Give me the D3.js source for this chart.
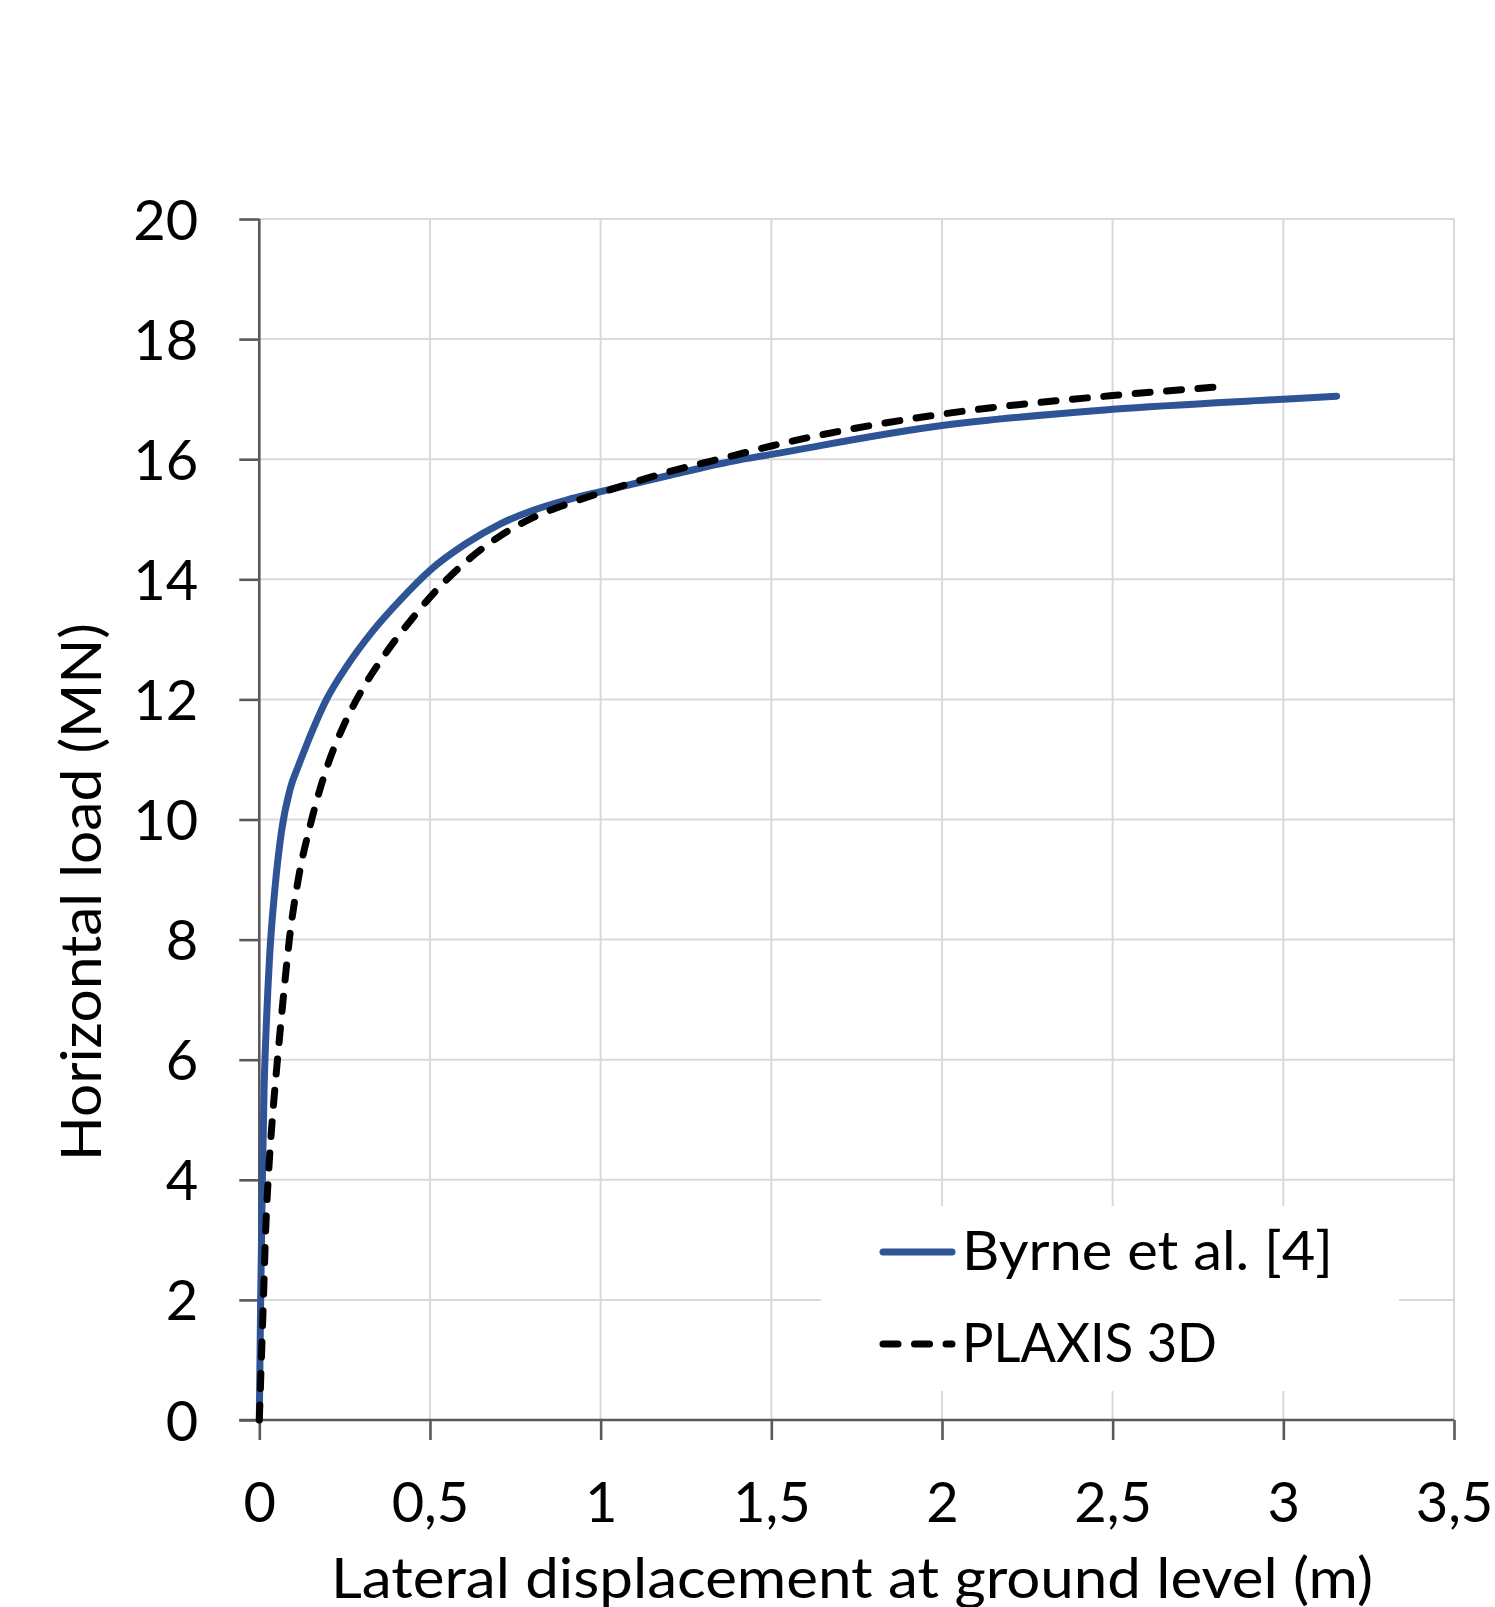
<!DOCTYPE html>
<html>
<head>
<meta charset="utf-8">
<script src="https://cdn.jsdelivr.net/npm/d3@7"></script>
<style>
  html, body { margin: 0; padding: 0; background: #fff; }
  svg { display: block; }
  text { font-family: Lato, "Open Sans", sans-serif; fill: #000; }
</style>
</head>
<body>
<svg id="chart" width="1495" height="1607"></svg>
<script>
// ---- Data ----
const byrneX = [0, 0.004, 0.009, 0.014, 0.02, 0.03, 0.045, 0.065, 0.09, 0.115, 0.139, 0.197, 0.256, 0.334, 0.412, 0.5, 0.607, 0.705, 0.803, 0.9, 1.0, 1.193, 1.389, 1.5, 2.0, 2.5, 3.0, 3.156];
const byrneY = [0, 2, 4, 5.5, 6.5, 7.7, 8.8, 9.8, 10.5, 10.9, 11.25, 12.0, 12.55, 13.15, 13.65, 14.15, 14.6, 14.92, 15.15, 15.32, 15.46, 15.72, 15.97, 16.08, 16.56, 16.83, 17.0, 17.05];

const plaxisX = [0, 0.006, 0.012, 0.019, 0.027, 0.038, 0.05, 0.063, 0.075, 0.088, 0.114, 0.149, 0.2, 0.25, 0.3, 0.35, 0.4, 0.45, 0.5, 0.607, 0.705, 0.803, 0.9, 1.0, 1.193, 1.389, 1.5, 1.584, 2.0, 2.5, 2.8];
const plaxisY = [0, 1, 2, 3.2, 4.1, 5.0, 5.8, 6.6, 7.3, 8.0, 9.0, 9.9, 10.9, 11.6, 12.15, 12.6, 13.0, 13.36, 13.7, 14.3, 14.72, 15.03, 15.25, 15.44, 15.78, 16.06, 16.22, 16.33, 16.75, 17.06, 17.2];

const xTicks = [0, 0.5, 1, 1.5, 2, 2.5, 3, 3.5];
const xTickLabels = ["0", "0,5", "1", "1,5", "2", "2,5", "3", "3,5"];
const yTicks = [0, 2, 4, 6, 8, 10, 12, 14, 16, 18, 20];
const yTickLabels = ["0", "2", "4", "6", "8", "10", "12", "14", "16", "18", "20"];

const seriesNames = ["Byrne et al. [4]", "PLAXIS 3D"];
const xTitle = "Lateral displacement at ground level (m)";
const yTitle = "Horizontal load (MN)";

// ---- Layout ----
const plot = { left: 259.3, right: 1454, top: 219, bottom: 1420 };
const svg = d3.select("#chart");

const x = d3.scaleLinear().domain([0, 3.5]).range([plot.left, plot.right]);
const y = d3.scaleLinear().domain([0, 20]).range([plot.bottom, plot.top]);

const gridColor = "#d9d9d9";
const axisColor = "#595959";
const blue = "#2f5496";

// Gridlines
svg.append("g").selectAll("line.h").data(yTicks.filter(d => d > 0)).join("line")
  .attr("x1", plot.left).attr("x2", plot.right)
  .attr("y1", d => y(d)).attr("y2", d => y(d))
  .attr("stroke", gridColor).attr("stroke-width", 2);
svg.append("g").selectAll("line.v").data(xTicks.filter(d => d > 0)).join("line")
  .attr("x1", d => x(d)).attr("x2", d => x(d))
  .attr("y1", plot.top).attr("y2", plot.bottom)
  .attr("stroke", gridColor).attr("stroke-width", 2);

// Legend background (hides grid)
const leg = { x: 821, y: 1206, w: 578, h: 185 };
svg.append("rect").attr("x", leg.x).attr("y", leg.y).attr("width", leg.w).attr("height", leg.h).attr("fill", "#fff");

// Axes
const xAxis = d3.axisBottom(x).tickValues(xTicks).tickSize(20).tickFormat((d, i) => xTickLabels[i]);
const yAxis = d3.axisLeft(y).tickValues(yTicks).tickSize(20).tickFormat((d, i) => yTickLabels[i]);

const gx = svg.append("g").attr("transform", `translate(0,${plot.bottom})`).call(xAxis);
const gy = svg.append("g").attr("transform", `translate(${plot.left},0)`).call(yAxis);

[gx, gy].forEach(g => {
  g.select(".domain").attr("stroke", axisColor).attr("stroke-width", 2.6);
  g.selectAll(".tick line").attr("stroke", axisColor).attr("stroke-width", 2.6);
  g.selectAll(".tick text").attr("fill", "#000").style("font-family", "Lato, 'Open Sans', sans-serif").style("font-size", "56px");
});
gx.select(".domain").attr("d", `M${plot.left - 20},0H${plot.right}`);
gy.select(".domain").attr("d", `M0,${plot.bottom}V${plot.top}`);
gx.selectAll(".tick text").attr("y", 0).attr("dy", 0).attr("transform", "translate(0,102)");
gy.selectAll(".tick text").attr("x", -61).attr("dy", 0).attr("transform", "translate(0,20)");

// Lines
const line = d3.line().x(d => x(d[0])).y(d => y(d[1])).curve(d3.curveMonotoneX);
const byrneData = byrneX.map((v, i) => [v, byrneY[i]]);
const plaxisData = plaxisX.map((v, i) => [v, plaxisY[i]]);

svg.append("path").datum(byrneData).attr("d", line)
  .attr("fill", "none").attr("stroke", blue).attr("stroke-width", 7)
  .attr("stroke-linecap", "round").attr("stroke-linejoin", "round");
svg.append("path").datum(plaxisData).attr("d", line)
  .attr("fill", "none").attr("stroke", "#000").attr("stroke-width", 7)
  .attr("stroke-dasharray", "15,16.5").attr("stroke-linecap", "round");

// Legend
const legendItems = [
  { name: seriesNames[0], color: blue, dash: null, y: 1252, len: 371 },
  { name: seriesNames[1], color: "#000", dash: "15,16.5", y: 1344, len: 255 }
];
legendItems.forEach(it => {
  svg.append("line").attr("x1", 883).attr("x2", 952).attr("y1", it.y).attr("y2", it.y)
    .attr("stroke", it.color).attr("stroke-width", 7).attr("stroke-linecap", "round")
    .attr("stroke-dasharray", it.dash);
  svg.append("text").attr("x", 962).attr("y", it.y + 18).style("font-size", "54px")
    .attr("textLength", it.len).attr("lengthAdjust", "spacingAndGlyphs").text(it.name);
});

// Axis titles
svg.append("text").attr("x", 852).attr("y", 1598).attr("text-anchor", "middle")
  .style("font-size", "56px").attr("textLength", 1042).attr("lengthAdjust", "spacingAndGlyphs").text(xTitle);
svg.append("text").attr("transform", "translate(101,892) rotate(-90)").attr("text-anchor", "middle")
  .style("font-size", "56px").attr("textLength", 538).attr("lengthAdjust", "spacingAndGlyphs").text(yTitle);
</script>
</body>
</html>
